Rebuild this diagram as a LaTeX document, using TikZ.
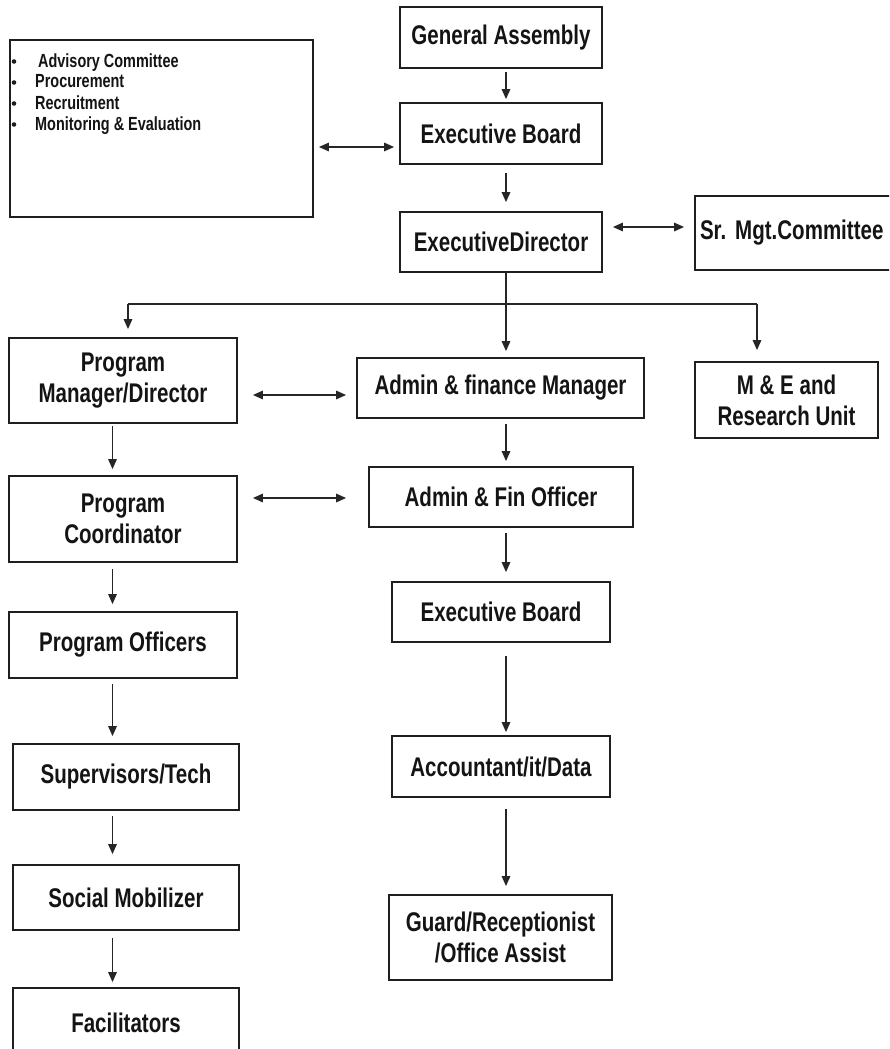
\documentclass[tikz,border=0pt]{standalone}
\usepackage{fontspec}
\newfontfamily\nb{Liberation Sans}[FakeStretch=0.76]
\usetikzlibrary{arrows.meta}
\begin{document}
\frenchspacing
\begin{tikzpicture}[x=1pt,y=-1pt,
  box/.style={draw=black!88, line width=1.8pt, align=center, inner sep=0pt,
    font={\nb\bfseries\fontsize{27}{31}\selectfont}, text=black!92},
  arr/.style={line width=1.5pt, draw=black!85, -{Triangle[length=10pt,width=8.5pt]}},
  darr/.style={line width=1.5pt, draw=black!85, {Triangle[length=10pt,width=8.5pt]}-{Triangle[length=10pt,width=8.5pt]}},
  line/.style={line width=1.5pt, draw=black!85},
  item/.style={anchor=base west, inner sep=0pt, font={\nb\bfseries\fontsize{19}{21}\selectfont}, text=black!92},
  dot/.style={circle, fill=black!88, inner sep=0pt, minimum size=4.6pt}]
\clip (0,0) rectangle (889,1049);
\fill[white] (0,0) rectangle (889,1049);

% top column
\node[box, minimum width=202pt, minimum height=61pt] (ga) at (501,37.5) {General Assembly};
\node[box, minimum width=202pt, minimum height=61pt] (eb1) at (501,133.5) {Executive Board};
\node[box, minimum width=202pt, minimum height=60pt] (ed) at (501,242) {ExecutiveDirector};
\node[box, minimum width=205pt, minimum height=74pt, text width=195pt, align=left] (sr) at (797.5,233) {Sr.\ Mgt.Committee};

% advisory box
\node[draw=black!88, line width=1.8pt, minimum width=303pt, minimum height=177pt, inner sep=0pt] (adv) at (161.5,128.5) {};
\node[dot] (b1) at (14,61.5) {};
\node[dot] (b2) at (14,82.5) {};
\node[dot] (b3) at (14,103.5) {};
\node[dot] (b4) at (14,124.5) {};
\node[item] (l1) at (38,67) {Advisory Committee};
\node[item] (l2) at (35,88) {Procurement};
\node[item] (l3) at (35,109) {Recruitment};
\node[item] (l4) at (35,130) {Monitoring \& Evaluation};

% second tier
\node[box, minimum width=228pt, minimum height=85pt] (pm) at (123,380.5) {Program\\Manager/Director};
\node[box, minimum width=287pt, minimum height=60pt] (afm) at (500.5,388) {Admin \& finance Manager};
\node[box, minimum width=183pt, minimum height=76pt] (me) at (786.5,400) {M \& E and\\Research Unit};

% left column
\node[box, minimum width=228pt, minimum height=86pt] (pc) at (123,519) {Program\\Coordinator};
\node[box, minimum width=228pt, minimum height=66pt] (po) at (123,645) {Program Officers};
\node[box, minimum width=226pt, minimum height=66pt] (st) at (126,777) {Supervisors/Tech};
\node[box, minimum width=226pt, minimum height=65pt] (sm) at (126,897.5) {Social Mobilizer};
\node[box, minimum width=226pt, minimum height=70pt] (fac) at (126,1023) {Facilitators};

% middle column
\node[box, minimum width=264pt, minimum height=60pt] (afo) at (501,497) {Admin \& Fin Officer};
\node[box, minimum width=218pt, minimum height=60pt] (eb2) at (501,612) {Executive Board};
\node[box, minimum width=218pt, minimum height=61pt] (acc) at (501,766.5) {Accountant/it/Data};
\node[box, minimum width=223pt, minimum height=85pt] (gd) at (500.5,937.5) {Guard/Receptionist\\/Office Assist};

% helper coordinates
\coordinate (cx) at (506,0);
\coordinate (lx) at (112.5,0);
\coordinate (j) at (506,304);
\coordinate (jl) at (128,304);
\coordinate (jr) at (757,304);
\coordinate (y1) at (0,147);
\coordinate (y2) at (0,227);
\coordinate (y3) at (0,395);
\coordinate (y4) at (0,498);

% centre column arrows
\draw[arr, shorten <=3pt, shorten >=3pt] (cx |- ga.south) -- (cx |- eb1.north);
\draw[arr, shorten <=8pt, shorten >=9pt] (cx |- eb1.south) -- (cx |- ed.north);
\draw[line] (cx |- ed.south) -- (j);
\draw[line] (jl) -- (jr);
\draw[arr, shorten >=8pt] (jl) -- (jl |- pm.north);
\draw[arr, shorten >=6pt] (j) -- (j |- afm.north);
\draw[arr, shorten >=11pt] (jr) -- (jr |- me.north);
\draw[arr, shorten <=5pt, shorten >=5pt] (cx |- afm.south) -- (cx |- afo.north);
\draw[arr, shorten <=5pt, shorten >=9pt] (cx |- afo.south) -- (cx |- eb2.north);
\draw[arr, shorten <=13pt, shorten >=3pt] (cx |- eb2.south) -- (cx |- acc.north);
\draw[arr, shorten <=11pt, shorten >=8pt] (cx |- acc.south) -- (cx |- gd.north);

% left column arrows
\draw[arr, shorten <=2pt, shorten >=6pt] (lx |- pm.south) -- (lx |- pc.north);
\draw[arr, shorten <=6pt, shorten >=7pt] (lx |- pc.south) -- (lx |- po.north);
\draw[arr, shorten <=5pt, shorten >=7pt] (lx |- po.south) -- (lx |- st.north);
\draw[arr, shorten <=5pt, shorten >=10pt] (lx |- st.south) -- (lx |- sm.north);
\draw[arr, shorten <=7pt, shorten >=5pt] (lx |- sm.south) -- (lx |- fac.north);

% double arrows
\draw[darr, shorten <=5pt, shorten >=5pt] (adv.east |- y1) -- (eb1.west |- y1);
\draw[darr, shorten <=10pt, shorten >=10pt] (ed.east |- y2) -- (sr.west |- y2);
\draw[darr, shorten <=15pt, shorten >=10pt] (pm.east |- y3) -- (afm.west |- y3);
\draw[darr, shorten <=15pt, shorten >=22pt] (pc.east |- y4) -- (afo.west |- y4);
\end{tikzpicture}
\end{document}
